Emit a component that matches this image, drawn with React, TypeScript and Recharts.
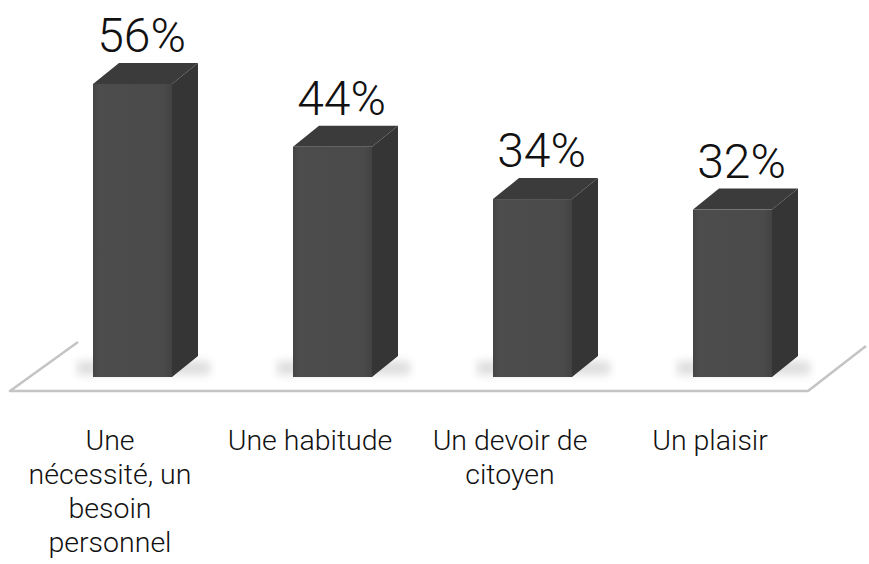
import { BarChart, Bar, XAxis, YAxis, LabelList } from "recharts";

const categories = [
  "Une\nnécessité, un\nbesoin\npersonnel",
  "Une habitude",
  "Un devoir de\ncitoyen",
  "Un plaisir",
];
const shares = [56, 44, 34, 32];

const data = categories.map((name, i) => ({ name, value: shares[i] }));

const FONT = "Roboto, 'Open Sans', 'Liberation Sans', sans-serif";
const DX = 26;
const DY = 21;

// 3D box: front, side, top
function Box3D(props: any) {
  const { x, y, width, height } = props;
  if (height == null || height <= 0) return null;
  const r = x + width;
  const b = y + height;
  return (
    <g>
      <rect x={x - 16} y={b - 16} width={width + 54} height={14} fill="#000" opacity={0.13} filter="url(#soft)" />
      <polygon points={`${r},${y} ${r + DX},${y - DY} ${r + DX},${b - DY} ${r},${b}`} fill="#353535" />
      <polygon points={`${x},${y} ${x + DX},${y - DY} ${r + DX},${y - DY} ${r},${y}`} fill="#3b3b3b" />
      <rect x={x} y={y} width={width} height={height} fill="url(#front)" />
    </g>
  );
}

function ValueLabel(props: any) {
  const { x, y, width, value } = props;
  return (
    <text
      x={x + width / 2 + 9}
      y={y - 32}
      textAnchor="middle"
      fontFamily={FONT}
      fontWeight={300}
      fontSize={48}
      fill="#111"
    >
      {value}%
    </text>
  );
}

function CategoryTick(props: any) {
  const { x, y, payload } = props;
  const lines = String(payload.value).split("\n");
  return (
    <text
      x={x - 22}
      y={y}
      textAnchor="middle"
      fontFamily={FONT}
      fontWeight={300}
      fontSize={28.5}
      fill="#111"
    >
      {lines.map((ln, i) => (
        <tspan key={i} x={x - 22} y={y + 73 + i * 34}>
          {ln}
        </tspan>
      ))}
    </text>
  );
}

export default function App() {
  return (
    <div style={{ position: "absolute", left: 0, top: 0, width: 869, height: 564, background: "#fff" }}>
      {/* floor */}
      <svg width={869} height={564} style={{ position: "absolute", left: 0, top: 0 }}>
        <polyline
          points="78,342 10,391 808,391 866,346"
          fill="none"
          stroke="#c4c4c4"
          strokeWidth={2.5}
          strokeLinejoin="round"
        />
      </svg>
      <div style={{ position: "absolute", left: 0, top: 0 }}>
        <BarChart
          width={869}
          height={564}
          data={data}
          margin={{ top: 63, right: 37, bottom: 37, left: 32 }}
          barCategoryGap={0}
        >
          <defs>
            <linearGradient id="front" x1="0" y1="0" x2="1" y2="0">
              <stop offset="0" stopColor="#444" />
              <stop offset="0.08" stopColor="#4c4c4c" />
              <stop offset="0.9" stopColor="#4a4a4a" />
              <stop offset="1" stopColor="#424242" />
            </linearGradient>
            <filter id="soft" x="-20%" y="-100%" width="140%" height="300%">
              <feGaussianBlur stdDeviation="4" />
            </filter>
          </defs>
          <XAxis
            dataKey="name"
            axisLine={false}
            tickLine={false}
            tickSize={0}
            tickMargin={0}
            height={150}
            interval={0}
            tick={<CategoryTick />}
          />
          <YAxis hide domain={[0, 60]} />
          <Bar dataKey="value" barSize={79} shape={<Box3D />} isAnimationActive={false}>
            <LabelList dataKey="value" content={<ValueLabel />} />
          </Bar>
        </BarChart>
      </div>
    </div>
  );
}
